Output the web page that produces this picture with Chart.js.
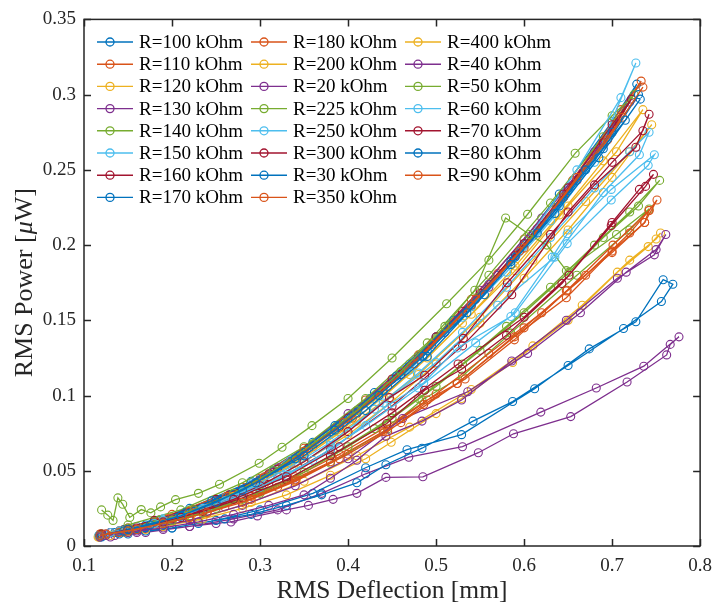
<!DOCTYPE html>
<html>
<head>
<meta charset="utf-8">
<script src="https://cdn.jsdelivr.net/npm/chart.js@4.4.1/dist/chart.umd.min.js"></script>
<style>
  html, body { margin: 0; padding: 0; background: #fff; }
  canvas { display: block; }
</style>
</head>
<body>
<canvas id="powerChart" width="721" height="607"></canvas>
<script>
// load resistance of each sweep, legend order
const resistances = ["100", "110", "120", "130", "140", "150", "160", "170",
                     "180", "200", "20", "225", "250", "300", "30", "350",
                     "400", "40", "50", "60", "70", "80", "90"];

const xTicks = [0.1, 0.2, 0.3, 0.4, 0.5, 0.6, 0.7, 0.8];
const yTicks = [0, 0.05, 0.1, 0.15, 0.2, 0.25, 0.3, 0.35];

// [RMS deflection mm, RMS power uW], sweep up then back down
const r100 = [[0.117,0.007],[0.14,0.010],[0.17,0.014],[0.21,0.021],[0.25,0.030],[0.29,0.042],[0.335,0.057],[0.38,0.076],[0.425,0.098],[0.47,0.121],[0.515,0.147],[0.56,0.174],[0.605,0.204],[0.65,0.236],[0.69,0.267],[0.728,0.307],[0.70,0.282],[0.64,0.234],[0.57,0.180],[0.5,0.139],[0.43,0.102],[0.36,0.069],[0.29,0.043],[0.22,0.025],[0.16,0.013]];
const r110 = [[0.118,0.008],[0.145,0.011],[0.18,0.016],[0.22,0.023],[0.26,0.032],[0.3,0.045],[0.345,0.061],[0.39,0.080],[0.435,0.102],[0.48,0.126],[0.525,0.153],[0.57,0.181],[0.615,0.211],[0.66,0.243],[0.70,0.275],[0.733,0.309],[0.71,0.290],[0.655,0.243],[0.60,0.204],[0.54,0.164],[0.48,0.127],[0.42,0.097],[0.35,0.065],[0.28,0.039],[0.20,0.021],[0.14,0.010]];
const r120 = [[0.116,0.006],[0.14,0.009],[0.175,0.014],[0.215,0.020],[0.255,0.029],[0.30,0.042],[0.345,0.058],[0.39,0.076],[0.44,0.099],[0.49,0.125],[0.54,0.154],[0.59,0.186],[0.64,0.220],[0.69,0.256],[0.735,0.290],[0.705,0.262],[0.65,0.226],[0.59,0.183],[0.53,0.148],[0.47,0.114],[0.41,0.088],[0.34,0.058],[0.27,0.035],[0.20,0.019],[0.15,0.011]];
const r130 = [[0.119,0.007],[0.15,0.011],[0.185,0.016],[0.225,0.023],[0.27,0.034],[0.315,0.049],[0.36,0.066],[0.41,0.088],[0.46,0.114],[0.51,0.142],[0.56,0.172],[0.61,0.206],[0.66,0.243],[0.72,0.295],[0.68,0.262],[0.62,0.218],[0.55,0.170],[0.48,0.126],[0.40,0.088],[0.32,0.052],[0.25,0.031],[0.18,0.016],[0.13,0.009]];
const r140 = [[0.12,0.024],[0.127,0.0205],[0.133,0.017],[0.1385,0.032],[0.144,0.0277],[0.152,0.019],[0.165,0.0242],[0.176,0.022],[0.187,0.026],[0.204,0.0308],[0.23,0.035],[0.254,0.041],[0.299,0.055],[0.325,0.0656],[0.359,0.080],[0.40,0.098],[0.45,0.125],[0.512,0.161],[0.56,0.190],[0.604,0.2205],[0.658,0.261],[0.70,0.286],[0.725,0.300],[0.69,0.272],[0.63,0.228],[0.56,0.180],[0.49,0.135],[0.42,0.098],[0.35,0.066],[0.28,0.042],[0.21,0.024],[0.15,0.014]];
const r150 = [[0.117,0.007],[0.142,0.010],[0.172,0.014],[0.208,0.020],[0.248,0.029],[0.29,0.041],[0.335,0.057],[0.38,0.075],[0.43,0.098],[0.48,0.124],[0.53,0.152],[0.58,0.182],[0.63,0.216],[0.68,0.255],[0.727,0.321],[0.71,0.298],[0.66,0.250],[0.60,0.201],[0.54,0.159],[0.47,0.117],[0.40,0.084],[0.33,0.054],[0.26,0.032],[0.19,0.018],[0.14,0.010]];
const r160 = [[0.12,0.008],[0.15,0.012],[0.185,0.017],[0.225,0.024],[0.265,0.034],[0.31,0.048],[0.355,0.065],[0.40,0.085],[0.45,0.111],[0.50,0.139],[0.55,0.168],[0.60,0.201],[0.645,0.234],[0.69,0.268],[0.722,0.297],[0.70,0.280],[0.65,0.238],[0.59,0.193],[0.53,0.156],[0.46,0.114],[0.39,0.079],[0.32,0.051],[0.25,0.031],[0.18,0.017],[0.13,0.009]];
const r170 = [[0.118,0.007],[0.146,0.011],[0.178,0.015],[0.215,0.022],[0.255,0.031],[0.30,0.044],[0.345,0.060],[0.39,0.080],[0.44,0.103],[0.49,0.130],[0.54,0.160],[0.59,0.192],[0.64,0.226],[0.69,0.264],[0.73,0.300],[0.70,0.275],[0.645,0.232],[0.585,0.189],[0.52,0.150],[0.455,0.113],[0.385,0.080],[0.315,0.050],[0.245,0.030],[0.185,0.017],[0.135,0.009]];
const r180 = [[0.119,0.008],[0.148,0.011],[0.182,0.016],[0.22,0.023],[0.262,0.033],[0.305,0.046],[0.35,0.063],[0.395,0.082],[0.445,0.106],[0.495,0.134],[0.545,0.164],[0.595,0.196],[0.645,0.232],[0.695,0.270],[0.735,0.305],[0.712,0.285],[0.66,0.245],[0.60,0.198],[0.54,0.160],[0.475,0.121],[0.405,0.085],[0.335,0.055],[0.265,0.033],[0.195,0.018],[0.14,0.010]];
const r200 = [[0.117,0.006],[0.145,0.009],[0.18,0.014],[0.22,0.020],[0.26,0.029],[0.305,0.041],[0.35,0.056],[0.40,0.074],[0.45,0.096],[0.50,0.121],[0.55,0.148],[0.60,0.178],[0.65,0.210],[0.70,0.245],[0.745,0.280],[0.72,0.262],[0.67,0.229],[0.61,0.190],[0.55,0.152],[0.48,0.114],[0.41,0.083],[0.34,0.055],[0.27,0.033],[0.20,0.018],[0.145,0.010]];
const r20 = [[0.118,0.006],[0.135,0.007],[0.16,0.009],[0.19,0.011],[0.22,0.013],[0.25,0.015],[0.267,0.016],[0.297,0.020],[0.33,0.024],[0.355,0.027],[0.383,0.031],[0.41,0.035],[0.443,0.0456],[0.485,0.046],[0.548,0.062],[0.588,0.0746],[0.653,0.086],[0.717,0.109],[0.762,0.127],[0.766,0.134],[0.776,0.139],[0.736,0.1195],[0.682,0.105],[0.619,0.089],[0.53,0.066],[0.469,0.059],[0.42,0.048],[0.37,0.035],[0.32,0.024],[0.27,0.018],[0.22,0.013],[0.17,0.009],[0.13,0.006]];
const r225 = [[0.12,0.008],[0.15,0.012],[0.185,0.017],[0.225,0.024],[0.27,0.035],[0.315,0.050],[0.36,0.068],[0.41,0.090],[0.46,0.116],[0.51,0.146],[0.544,0.170],[0.579,0.218],[0.606,0.207],[0.626,0.200],[0.648,0.183],[0.705,0.207],[0.742,0.224],[0.72,0.210],[0.66,0.180],[0.585,0.1415],[0.53,0.113],[0.484,0.097],[0.445,0.0777],[0.38,0.055],[0.30,0.035],[0.22,0.020],[0.15,0.011]];
const r250 = [[0.119,0.007],[0.15,0.011],[0.19,0.017],[0.235,0.025],[0.28,0.036],[0.33,0.051],[0.38,0.069],[0.43,0.091],[0.48,0.115],[0.53,0.142],[0.58,0.172],[0.63,0.205],[0.68,0.238],[0.72,0.262],[0.742,0.275],[0.731,0.260],[0.69,0.235],[0.635,0.192],[0.57,0.160],[0.50,0.122],[0.44,0.095],[0.38,0.067],[0.32,0.046],[0.26,0.030],[0.20,0.018],[0.14,0.010]];
const r300 = [[0.12,0.008],[0.16,0.012],[0.20,0.018],[0.25,0.027],[0.30,0.040],[0.35,0.056],[0.40,0.076],[0.447,0.0986],[0.487,0.1135],[0.531,0.138],[0.581,0.175],[0.63,0.207],[0.68,0.240],[0.727,0.265],[0.742,0.287],[0.735,0.276],[0.70,0.255],[0.65,0.222],[0.586,0.167],[0.53,0.133],[0.45,0.093],[0.38,0.064],[0.31,0.041],[0.24,0.025],[0.17,0.013],[0.125,0.008]];
const r30 = [[0.118,0.006],[0.14,0.008],[0.17,0.010],[0.20,0.012],[0.23,0.015],[0.26,0.018],[0.29,0.021],[0.33,0.027],[0.37,0.034],[0.41,0.042],[0.443,0.054],[0.484,0.065],[0.542,0.083],[0.587,0.096],[0.65,0.120],[0.713,0.1446],[0.756,0.1625],[0.769,0.174],[0.758,0.177],[0.727,0.149],[0.674,0.131],[0.612,0.1045],[0.529,0.074],[0.467,0.064],[0.42,0.052],[0.36,0.035],[0.30,0.024],[0.25,0.017],[0.20,0.012],[0.15,0.008],[0.12,0.006]];
const r350 = [[0.118,0.007],[0.15,0.011],[0.19,0.016],[0.24,0.023],[0.29,0.033],[0.34,0.046],[0.39,0.061],[0.44,0.078],[0.49,0.097],[0.524,0.108],[0.589,0.139],[0.648,0.165],[0.70,0.196],[0.737,0.215],[0.742,0.223],[0.72,0.208],[0.67,0.180],[0.62,0.155],[0.56,0.128],[0.50,0.101],[0.44,0.076],[0.38,0.056],[0.32,0.039],[0.26,0.026],[0.20,0.016],[0.14,0.009]];
const r400 = [[0.117,0.006],[0.15,0.009],[0.19,0.013],[0.235,0.018],[0.28,0.025],[0.33,0.034],[0.38,0.047],[0.42,0.058],[0.449,0.069],[0.50,0.088],[0.529,0.098],[0.587,0.122],[0.65,0.150],[0.706,0.182],[0.741,0.199],[0.755,0.208],[0.750,0.204],[0.72,0.190],[0.666,0.160],[0.61,0.133],[0.54,0.104],[0.47,0.079],[0.41,0.060],[0.35,0.043],[0.29,0.029],[0.23,0.018],[0.17,0.011],[0.13,0.007]];
const r40 = [[0.118,0.006],[0.15,0.009],[0.19,0.012],[0.23,0.016],[0.27,0.021],[0.31,0.027],[0.35,0.034],[0.38,0.045],[0.41,0.057],[0.443,0.073],[0.484,0.083],[0.529,0.097],[0.586,0.123],[0.648,0.150],[0.706,0.178],[0.748,0.1935],[0.761,0.207],[0.750,0.197],[0.716,0.182],[0.664,0.155],[0.604,0.128],[0.536,0.1025],[0.462,0.0847],[0.40,0.058],[0.34,0.040],[0.28,0.027],[0.22,0.017],[0.16,0.010],[0.125,0.007]];
const r50 = [[0.118,0.007],[0.15,0.010],[0.19,0.015],[0.235,0.022],[0.28,0.031],[0.33,0.044],[0.38,0.060],[0.43,0.078],[0.48,0.098],[0.53,0.121],[0.58,0.146],[0.63,0.172],[0.68,0.200],[0.72,0.222],[0.754,0.243],[0.73,0.226],[0.69,0.205],[0.651,0.182],[0.60,0.155],[0.55,0.130],[0.50,0.106],[0.45,0.085],[0.40,0.066],[0.35,0.049],[0.30,0.036],[0.25,0.025],[0.20,0.017],[0.15,0.011]];
const r60 = [[0.117,0.007],[0.15,0.011],[0.19,0.016],[0.235,0.024],[0.28,0.034],[0.33,0.047],[0.38,0.063],[0.444,0.093],[0.486,0.1085],[0.524,0.1316],[0.585,0.1525],[0.632,0.192],[0.649,0.2075],[0.699,0.237],[0.748,0.260],[0.741,0.253],[0.699,0.230],[0.649,0.201],[0.59,0.155],[0.545,0.135],[0.48,0.105],[0.42,0.080],[0.36,0.057],[0.30,0.039],[0.24,0.025],[0.18,0.015],[0.13,0.009]];
const r70 = [[0.118,0.007],[0.15,0.011],[0.19,0.016],[0.235,0.023],[0.28,0.032],[0.33,0.044],[0.38,0.060],[0.444,0.0814],[0.487,0.1035],[0.529,0.1175],[0.58,0.140],[0.643,0.1745],[0.699,0.213],[0.738,0.239],[0.747,0.247],[0.731,0.237],[0.70,0.215],[0.651,0.180],[0.60,0.152],[0.525,0.121],[0.45,0.0885],[0.39,0.066],[0.33,0.046],[0.27,0.031],[0.21,0.019],[0.15,0.011]];
const r80 = [[0.118,0.007],[0.145,0.010],[0.175,0.014],[0.21,0.020],[0.25,0.029],[0.295,0.042],[0.34,0.058],[0.385,0.077],[0.435,0.100],[0.485,0.126],[0.535,0.155],[0.585,0.187],[0.635,0.221],[0.685,0.258],[0.732,0.297],[0.715,0.283],[0.67,0.250],[0.615,0.208],[0.555,0.167],[0.49,0.126],[0.42,0.090],[0.35,0.060],[0.28,0.037],[0.21,0.020],[0.15,0.011]];
const r90 = [[0.118,0.007],[0.15,0.010],[0.19,0.015],[0.24,0.022],[0.29,0.031],[0.34,0.043],[0.39,0.058],[0.445,0.076],[0.486,0.094],[0.533,0.111],[0.589,0.137],[0.649,0.170],[0.701,0.200],[0.742,0.223],[0.751,0.230],[0.737,0.215],[0.70,0.195],[0.648,0.1695],[0.60,0.145],[0.524,0.108],[0.46,0.082],[0.40,0.061],[0.34,0.044],[0.28,0.029],[0.22,0.019],[0.16,0.011],[0.125,0.008]];

const series = [r100, r110, r120, r130, r140, r150, r160, r170,
                r180, r200, r20, r225, r250, r300, r30, r350,
                r400, r40, r50, r60, r70, r80, r90];

const palette = ["#0072BD", "#D95319", "#EDB120", "#7E2F8E", "#77AC30", "#4DBEEE", "#A2142F"];
const axisColor = "#262626";
const serif = "'Liberation Serif', 'Times New Roman', serif";

// box round the axes with inward ticks on all four sides
const framePlugin = {
  id: "frame",
  afterDatasetsDraw(chart) {
    const { ctx, chartArea: a, scales: { x, y } } = chart;
    ctx.save();
    ctx.strokeStyle = axisColor;
    ctx.lineWidth = 1.5;
    ctx.beginPath();
    xTicks.forEach(v => {
      const px = Math.round(x.getPixelForValue(v)) + 0.5;
      ctx.moveTo(px, a.bottom); ctx.lineTo(px, a.bottom - 7);
      ctx.moveTo(px, a.top); ctx.lineTo(px, a.top + 7);
    });
    yTicks.forEach(v => {
      const py = Math.round(y.getPixelForValue(v)) + 0.5;
      ctx.moveTo(a.left, py); ctx.lineTo(a.left + 7, py);
      ctx.moveTo(a.right, py); ctx.lineTo(a.right - 7, py);
    });
    ctx.stroke();
    ctx.strokeRect(a.left, a.top, a.right - a.left, a.bottom - a.top);
    ctx.restore();
  }
};

// three column legend, filled column by column
const legendPlugin = {
  id: "colLegend",
  afterDraw(chart) {
    const ctx = chart.ctx;
    const colX = [97, 251, 405];
    ctx.save();
    ctx.font = "19px " + serif;
    ctx.textBaseline = "middle";
    ctx.fillStyle = "#000";
    chart.data.datasets.forEach((ds, i) => {
      const col = Math.floor(i / 8);
      const row = i % 8;
      const x0 = colX[col];
      const yy = 42 + row * 22.2;
      ctx.strokeStyle = ds.borderColor;
      ctx.lineWidth = 1.4;
      ctx.beginPath();
      ctx.moveTo(x0, yy); ctx.lineTo(x0 + 36, yy);
      ctx.stroke();
      ctx.lineWidth = 1.3;
      ctx.beginPath();
      ctx.arc(x0 + 13, yy, 4, 0, Math.PI * 2);
      ctx.stroke();
      ctx.fillText(ds.label, x0 + 42, yy + 1);
    });
    ctx.restore();
  }
};

// y title with an italic mu
const yTitlePlugin = {
  id: "yTitle",
  afterDraw(chart) {
    const ctx = chart.ctx;
    const a = chart.chartArea;
    const parts = [["RMS Power [", ""], ["\u03bc", "italic "], ["W]", ""]];
    ctx.save();
    ctx.translate(25, (a.top + a.bottom) / 2);
    ctx.rotate(-Math.PI / 2);
    ctx.fillStyle = axisColor;
    ctx.textBaseline = "middle";
    let total = 0;
    parts.forEach(([t, s]) => { ctx.font = s + "26px " + serif; total += ctx.measureText(t).width; });
    let cx = -total / 2;
    parts.forEach(([t, s]) => {
      ctx.font = s + "26px " + serif;
      ctx.fillText(t, cx, 0);
      cx += ctx.measureText(t).width;
    });
    ctx.restore();
  }
};

new Chart(document.getElementById("powerChart"), {
  type: "scatter",
  data: {
    datasets: series.map((pts, i) => ({
      label: "R=" + resistances[i] + " kOhm",
      data: pts.map(p => ({ x: p[0], y: p[1] })),
      showLine: true,
      borderColor: palette[i % 7],
      borderWidth: 1.3,
      pointRadius: 4,
      pointBorderWidth: 1.1,
      pointBackgroundColor: "rgba(0,0,0,0)",
      pointBorderColor: palette[i % 7],
      order: series.length - i
    }))
  },
  options: {
    responsive: false,
    animation: false,
    events: [],
    layout: { padding: { top: 16, right: 13, left: 0, bottom: 0 } },
    plugins: { legend: { display: false }, tooltip: { enabled: false } },
    scales: {
      x: {
        type: "linear",
        min: 0.1, max: 0.8,
        afterFit: s => { s.height = 61; },
        afterBuildTicks: s => { s.ticks = xTicks.map(v => ({ value: v })); },
        ticks: { font: { family: serif, size: 19 }, color: axisColor, padding: 9,
                 maxRotation: 0, autoSkip: false, callback: v => String(v) },
        grid: { display: false, drawTicks: false },
        border: { display: false },
        title: { display: true, text: "RMS Deflection [mm]", color: axisColor,
                 font: { family: serif, size: 25.5 }, padding: { top: 0, bottom: 0 } }
      },
      y: {
        type: "linear",
        min: 0, max: 0.35,
        afterFit: s => { s.width = 84; },
        afterBuildTicks: s => { s.ticks = yTicks.map(v => ({ value: v })); },
        ticks: { font: { family: serif, size: 19 }, color: axisColor, padding: 8,
                 autoSkip: false, callback: v => String(v) },
        grid: { display: false, drawTicks: false },
        border: { display: false }
      }
    }
  },
  plugins: [framePlugin, legendPlugin, yTitlePlugin]
});
</script>
</body>
</html>
